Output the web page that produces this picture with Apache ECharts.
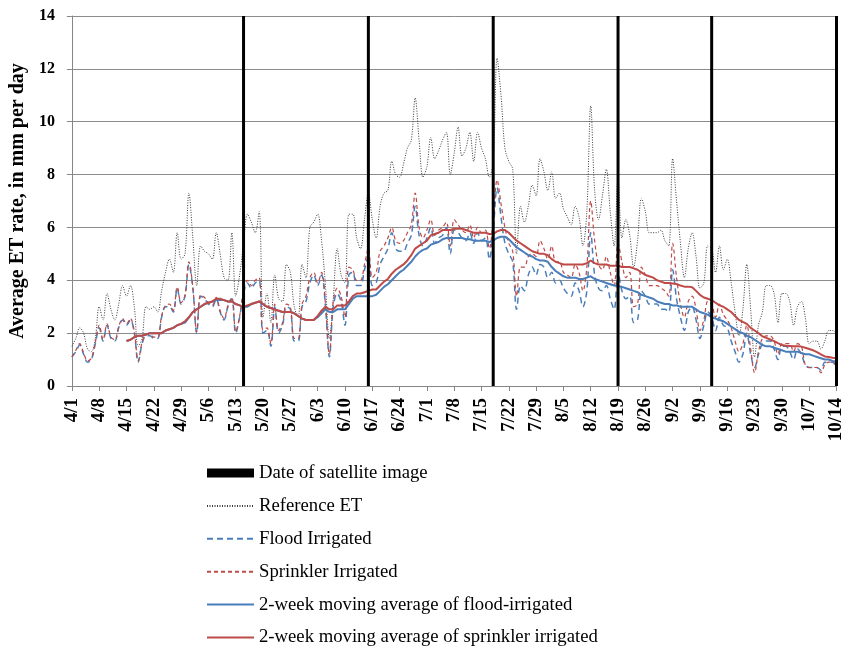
<!DOCTYPE html>
<html>
<head>
<meta charset="utf-8">
<script src="https://cdn.jsdelivr.net/npm/echarts@6/dist/echarts.min.js"></script>
<style>html,body{margin:0;padding:0;background:#fff}#c{width:846px;height:648px}</style>
</head>
<body>
<div id="c"></div>
<script>
// Days from 4/1 to 10/14
var monthLengths = [[4,30],[5,31],[6,30],[7,31],[8,31],[9,30],[10,14]];
var categories = [];
monthLengths.forEach(function(m){ for (var d = 1; d <= m[1]; d++) categories.push(m[0] + '/' + d); });

var satelliteDates = ['5/15','6/16','7/18','8/19','9/12','10/14'];

var referenceET = [
1.5,1.8,2.2,2.0,1.4,1.3,1.8,3.0,2.5,3.5,2.9,2.5,3.1,3.8,3.4,3.8,3.0,1.5,1.8,3.0,2.9,3.0,2.8,3.6,4.3,4.8,4.3,5.8,4.8,5.0,7.3,5.6,3.8,5.3,5.1,5.0,4.8,5.8,5.0,4.1,4.0,5.8,3.4,4.2,5.4,6.5,6.2,5.8,6.6,
2.6,3.5,2.4,4.2,3.3,3.2,4.6,4.3,3.0,2.6,4.6,4.1,6.0,6.2,6.5,5.5,3.8,1.8,3.3,5.2,4.2,3.9,6.5,6.5,5.6,5.2,6.3,7.3,6.3,5.6,6.8,7.3,7.4,8.5,8.0,7.9,8.4,9.0,9.3,10.9,9.3,7.9,8.3,9.4,8.6,8.9,
9.3,9.6,8.0,8.8,9.8,8.7,9.0,9.6,8.5,9.6,9.0,8.6,7.9,8.5,12.4,11.0,9.0,8.5,8.2,5.0,6.8,6.2,6.8,7.6,7.2,8.6,8.1,7.4,8.1,7.1,7.3,6.7,6.4,6.1,6.8,6.4,5.3,6.6,10.6,7.4,6.3,7.2,8.2,6.6,5.3,7.9,5.6,6.3,5.7,
4.5,5.5,7.1,6.6,5.8,5.8,5.8,5.9,5.5,5.3,8.6,7.0,5.4,4.1,5.2,5.8,4.9,3.7,3.9,5.3,5.2,4.3,5.3,4.4,4.8,3.9,2.8,1.9,2.9,4.6,2.9,1.1,2.3,2.8,3.8,3.8,3.5,2.4,3.5,3.5,3.2,2.3,3.0,3.2,2.6,1.6,1.7,1.7,1.4,1.7,2.1,2.1,2.0
];

var floodIrrigated = [
1.1,1.3,1.55,1.2,0.9,1.0,1.6,2.2,1.7,2.3,1.8,1.7,2.2,2.5,2.3,2.5,2.0,0.9,1.6,1.9,1.9,1.8,1.8,2.6,3.0,3.0,2.8,3.7,3.1,3.4,4.6,3.7,2.0,3.4,3.3,3.1,3.0,3.3,2.8,2.5,3.0,3.3,2.0,2.6,3.5,3.9,3.7,3.9,4.0,
2.0,2.1,1.5,3.0,2.0,2.3,3.0,2.9,1.7,1.7,3.0,3.2,3.9,4.2,3.8,4.2,3.0,1.1,3.0,3.5,3.2,2.3,4.2,4.3,3.8,3.8,4.4,4.9,3.8,3.9,4.6,4.9,5.2,5.8,5.2,5.1,5.1,5.4,5.7,6.8,5.7,5.3,5.6,6.0,5.4,5.6,
5.7,6.0,5.0,5.9,5.8,5.6,5.5,5.8,5.4,5.8,5.5,5.6,4.8,5.9,7.5,6.4,5.4,5.0,4.7,2.9,3.8,3.6,4.2,4.5,4.2,4.6,4.5,4.1,4.3,3.9,4.0,3.7,3.5,3.4,3.9,3.6,3.0,3.6,5.8,4.2,3.7,3.6,3.8,3.3,2.9,4.3,3.6,3.3,3.4,
2.4,2.5,3.6,3.4,3.1,3.1,3.1,2.9,2.9,2.8,4.4,3.3,2.6,2.1,2.8,3.0,2.5,1.8,2.3,2.8,2.6,2.1,2.6,2.3,2.2,1.7,1.3,0.9,1.2,2.0,1.2,0.7,1.2,1.6,1.7,1.7,1.4,1.0,1.5,1.5,1.3,1.0,1.4,1.2,0.8,0.7,0.7,0.7,0.6,0.9,0.9,0.9,0.7
];

var sprinklerIrrigated = [
1.1,1.35,1.6,1.25,0.95,1.05,1.65,2.3,1.75,2.35,1.85,1.75,2.25,2.55,2.35,2.55,2.05,0.95,1.65,1.95,1.95,1.85,1.85,2.65,3.05,3.1,2.85,3.75,3.15,3.45,4.7,3.75,2.05,3.45,3.35,3.15,3.05,3.35,2.85,2.55,3.05,3.35,2.05,2.65,3.6,4.0,3.8,4.0,4.1,
2.1,2.2,1.6,3.1,2.1,2.4,3.1,3.0,1.8,1.8,3.1,3.4,4.1,4.3,3.9,4.3,3.1,1.2,3.2,3.7,3.4,2.6,4.5,4.4,4.0,4.0,4.6,5.2,4.1,4.3,5.1,5.3,5.6,6.0,5.5,5.4,5.5,5.8,6.1,7.3,6.0,5.6,5.9,6.3,5.7,5.9,
6.0,6.2,5.3,6.3,6.1,5.9,5.8,6.1,5.6,6.0,5.8,5.9,5.2,6.3,7.8,6.9,6.0,5.4,5.1,3.4,4.5,4.5,4.9,5.0,4.9,5.5,5.2,4.8,5.3,4.7,4.7,4.3,4.2,4.1,4.6,4.3,3.6,4.5,7.0,5.5,4.6,4.4,4.9,4.3,3.8,5.4,4.7,4.1,4.3,
3.0,3.1,4.5,4.2,3.8,3.8,3.8,3.7,3.6,3.4,5.4,4.1,3.1,2.6,3.2,3.4,2.9,2.1,2.5,3.2,3.1,2.6,3.1,2.7,2.5,2.2,1.7,1.3,1.6,2.3,1.4,0.5,1.3,1.8,1.9,1.9,1.7,1.2,1.6,1.6,1.6,1.3,1.6,1.5,0.8,0.7,0.7,0.7,0.5,0.8,0.9,0.9,0.8
];

// 2-week moving averages, starting 4/15
var floodMovingAvg = [
1.7,1.75,1.85,1.9,1.9,1.95,2.0,2.0,2.0,2.0,
2.1,2.15,2.2,2.3,2.35,2.4,2.6,2.8,2.9,3.0,
3.1,3.15,3.2,3.25,3.25,3.25,3.2,3.2,3.1,3.05,
3.0,3.0,3.1,3.15,3.2,3.1,3.0,2.95,2.9,2.85,
2.8,2.8,2.8,2.75,2.65,2.55,2.5,2.5,2.5,2.6,
2.75,2.9,2.8,2.8,2.9,2.9,2.9,3.1,3.3,3.4,
3.4,3.4,3.4,3.4,3.45,3.6,3.75,3.85,4.0,4.15,
4.3,4.4,4.55,4.7,4.9,5.05,5.15,5.2,5.35,5.4,
5.45,5.55,5.6,5.6,5.6,5.6,5.6,5.55,5.55,5.5,
5.5,5.5,5.5,5.45,5.5,5.6,5.65,5.65,5.55,5.4,
5.25,5.15,5.05,4.95,4.9,4.8,4.75,4.75,4.7,4.5,
4.35,4.25,4.15,4.1,4.1,4.1,4.05,4.05,4.1,4.15,
4.05,4.0,3.95,3.9,3.85,3.8,3.78,3.75,3.7,3.65,
3.6,3.55,3.45,3.4,3.35,3.3,3.2,3.15,3.1,3.1,
3.05,3.05,3.0,3.0,3.0,3.0,2.9,2.8,2.75,2.7,
2.6,2.55,2.5,2.45,2.35,2.25,2.15,2.05,2.0,1.9,
1.85,1.75,1.65,1.55,1.5,1.5,1.45,1.4,1.35,1.3,
1.3,1.3,1.3,1.25,1.2,1.2,1.15,1.1,1.05,1.0,
1.0,0.95,0.92
];
var sprinklerMovingAvg = [
1.7,1.75,1.85,1.9,1.9,1.95,2.0,2.0,2.0,2.0,
2.1,2.15,2.2,2.3,2.35,2.45,2.6,2.8,2.9,3.0,
3.1,3.15,3.2,3.3,3.3,3.25,3.2,3.2,3.1,3.05,
3.0,3.05,3.1,3.15,3.2,3.1,3.0,2.95,2.9,2.85,
2.8,2.8,2.8,2.75,2.65,2.55,2.5,2.5,2.5,2.65,
2.85,3.0,2.9,2.9,3.05,3.05,3.05,3.2,3.4,3.5,
3.5,3.55,3.6,3.65,3.65,3.8,3.95,4.05,4.25,4.4,
4.5,4.6,4.75,4.95,5.2,5.3,5.4,5.5,5.7,5.75,
5.8,5.9,5.9,5.9,5.95,5.95,5.95,5.9,5.85,5.8,
5.8,5.8,5.8,5.75,5.75,5.85,5.9,5.9,5.8,5.65,
5.5,5.4,5.3,5.2,5.1,5.05,5.0,5.0,4.95,4.8,
4.7,4.65,4.6,4.6,4.6,4.6,4.6,4.6,4.65,4.75,
4.65,4.6,4.6,4.6,4.55,4.55,4.55,4.5,4.5,4.5,
4.45,4.4,4.3,4.2,4.15,4.1,4.0,3.95,3.9,3.9,
3.88,3.86,3.8,3.76,3.76,3.74,3.6,3.45,3.35,3.3,
3.25,3.15,3.05,3.0,2.9,2.8,2.65,2.5,2.43,2.35,
2.2,2.1,2.0,1.88,1.82,1.76,1.7,1.62,1.55,1.52,
1.51,1.5,1.5,1.49,1.45,1.4,1.35,1.28,1.2,1.12,
1.1,1.07,1.05
];
var maStartIndex = 14;

var yMax = 14;
var font = 'Liberation Serif';
var blue = '#4A7EBB', red = '#BE4B48';

function padMA(arr){ var out = []; for (var i = 0; i < maStartIndex; i++) out.push(null); return out.concat(arr); }
var satelliteBars = categories.map(function(c){ return satelliteDates.indexOf(c) >= 0 ? yMax : null; });
var noSymbol = {color: 'rgba(0,0,0,0)', borderColor: 'rgba(0,0,0,0)', borderWidth: 0, opacity: 0};

var chart = echarts.init(document.getElementById('c'), null, {renderer: 'canvas'});
chart.setOption({
  animation: false,
  grid: {left: 70, right: 9, top: 16, bottom: 262, containLabel: false},
  legend: {
    type: 'plain', orient: 'vertical', left: 206, top: 463, height: 200, padding: 0,
    itemWidth: 47, itemHeight: 9, itemGap: 12.9,
    textStyle: {fontFamily: font, fontSize: 18.7, color: '#000', lineHeight: 20},
    data: [
      {name: 'Date of satellite image', icon: 'rect'},
      {name: 'Reference ET', itemStyle: noSymbol},
      {name: 'Flood Irrigated', itemStyle: noSymbol},
      {name: 'Sprinkler Irrigated', itemStyle: noSymbol},
      {name: '2-week moving average of flood-irrigated', itemStyle: noSymbol},
      {name: '2-week moving average of sprinkler irrigated', itemStyle: noSymbol}
    ]
  },
  xAxis: {
    type: 'category', data: categories, boundaryGap: false,
    axisLine: {lineStyle: {color: '#868686', width: 1}},
    axisTick: {show: true, interval: 6, length: 5, lineStyle: {color: '#868686'}},
    axisLabel: {interval: 6, rotate: 90, margin: 12, fontFamily: font, fontWeight: 'bold', fontSize: 19, color: '#000'},
    splitLine: {show: false}
  },
  yAxis: {
    type: 'value', min: 0, max: yMax, interval: 2,
    name: 'Average ET rate, in mm per day', nameLocation: 'middle', nameGap: 39,
    nameTextStyle: {fontFamily: font, fontWeight: 'bold', fontSize: 20, color: '#000'},
    axisLine: {show: true, lineStyle: {color: '#868686', width: 1}},
    axisTick: {show: true, length: 5, lineStyle: {color: '#868686'}},
    axisLabel: {margin: 17, fontFamily: font, fontWeight: 'bold', fontSize: 16, color: '#000'},
    splitLine: {lineStyle: {color: '#8C8C8C', width: 1}}
  },
  series: [
    {name: 'Date of satellite image', type: 'bar', data: satelliteBars, barWidth: 3, clip: false,
     itemStyle: {color: '#000'}, z: 5},
    {name: 'Reference ET', type: 'line', data: referenceET, symbol: 'none', smooth: 0.35,
     lineStyle: {color: '#3a3a3a', width: 1, type: [1, 1.5]}, itemStyle: {color: '#3a3a3a'}},
    {name: 'Flood Irrigated', type: 'line', data: floodIrrigated, symbol: 'none', smooth: 0.35,
     lineStyle: {color: blue, width: 1.5, type: [6, 4]}, itemStyle: {color: blue}},
    {name: 'Sprinkler Irrigated', type: 'line', data: sprinklerIrrigated, symbol: 'none', smooth: 0.35,
     lineStyle: {color: red, width: 1.2, type: [4, 3]}, itemStyle: {color: red}},
    {name: '2-week moving average of flood-irrigated', type: 'line', data: padMA(floodMovingAvg), symbol: 'none',
     lineStyle: {color: blue, width: 2}, itemStyle: {color: blue}},
    {name: '2-week moving average of sprinkler irrigated', type: 'line', data: padMA(sprinklerMovingAvg), symbol: 'none',
     lineStyle: {color: red, width: 2}, itemStyle: {color: red}}
  ]
});
</script>
</body>
</html>
